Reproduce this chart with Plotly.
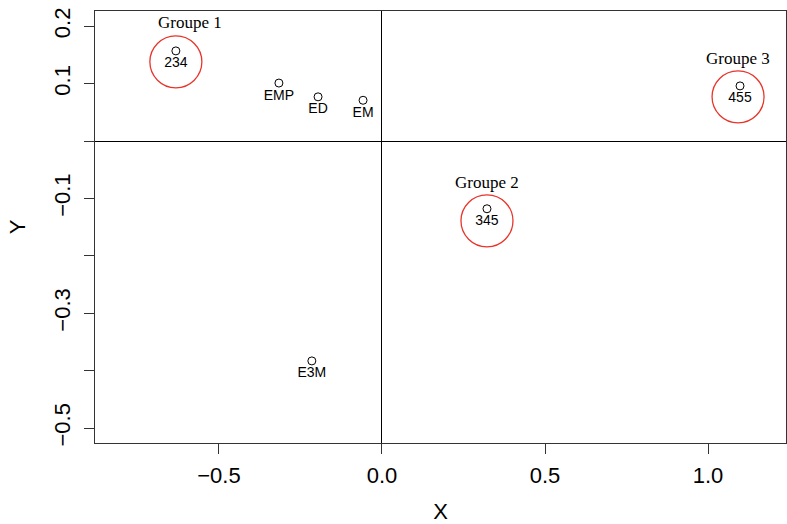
import plotly.graph_objects as go

# points (individus)
labels = ["234", "EMP", "ED", "EM", "455", "345", "E3M"]
xs = [-0.632, -0.316, -0.196, -0.058, 1.098, 0.322, -0.215]
ys = [0.157, 0.101, 0.077, 0.071, 0.096, -0.118, -0.383]

# groupes (cercles rouges)
grp_names = ["Groupe 1", "Groupe 2", "Groupe 3"]
grp_x = [-0.632, 0.322, 1.092]
grp_y = [0.138, -0.139, 0.077]
grp_lab_x = [-0.589, 0.322, 1.092]
grp_lab_y = [0.206, -0.073, 0.143]

y_ticks = [0.2, 0.1, 0.0, -0.1, -0.2, -0.3, -0.4, -0.5]
y_ticktext = ["0.2", "0.1", "", "\u22120.1", "", "\u22120.3", "", "\u22120.5"]
x_ticks = [-0.5, 0.0, 0.5, 1.0]
x_ticktext = ["\u22120.5", "0.0", "0.5", "1.0"]

fig = go.Figure()

fig.add_trace(go.Scatter(
    x=grp_x, y=grp_y, mode="markers",
    marker=dict(symbol="circle-open", size=52, color="#e8342a", line=dict(width=1.3)),
    hoverinfo="skip"))

fig.add_trace(go.Scatter(
    x=xs, y=ys, mode="markers+text", text=labels, textposition="bottom center",
    textfont=dict(family="Liberation Sans", size=14, color="black"),
    marker=dict(symbol="circle-open", size=8, color="black", line=dict(width=1))))

for n, gx, gy in zip(grp_names, grp_lab_x, grp_lab_y):
    fig.add_annotation(x=gx, y=gy, text=n, showarrow=False,
                       font=dict(family="Liberation Serif", size=17, color="black"))

axis_font = dict(family="Liberation Sans", size=22, color="black")
fig.update_xaxes(range=[-0.88, 1.239], tickvals=x_ticks, ticktext=x_ticktext, automargin=False,
                 showgrid=False, zeroline=True, zerolinecolor="black", zerolinewidth=1,
                 showline=True, mirror=True, linecolor="#333", linewidth=1,
                 ticks="outside", ticklen=10, tickcolor="#333", ticklabelstandoff=3,
                 tickfont=axis_font,
                 title=dict(text="X", font=axis_font, standoff=18))
fig.update_yaxes(range=[-0.526, 0.2265], tickvals=y_ticks, ticktext=y_ticktext, tickangle=-90,
                 automargin=False,
                 showgrid=False, zeroline=True, zerolinecolor="black", zerolinewidth=1,
                 showline=True, mirror=True, linecolor="#333", linewidth=1,
                 ticks="outside", ticklen=10, tickcolor="#333", ticklabelstandoff=5,
                 tickfont=axis_font,
                 title=dict(text="Y", font=axis_font, standoff=18))

fig.update_layout(width=787, height=524, showlegend=False,
                  plot_bgcolor="white", paper_bgcolor="white",
                  margin=dict(l=95, r=1, t=11, b=81))

# la page n'a pas de marge autour du graphique
fig.write_html("out.html", config={"displayModeBar": False},
               post_script="document.body.style.margin='0';")
